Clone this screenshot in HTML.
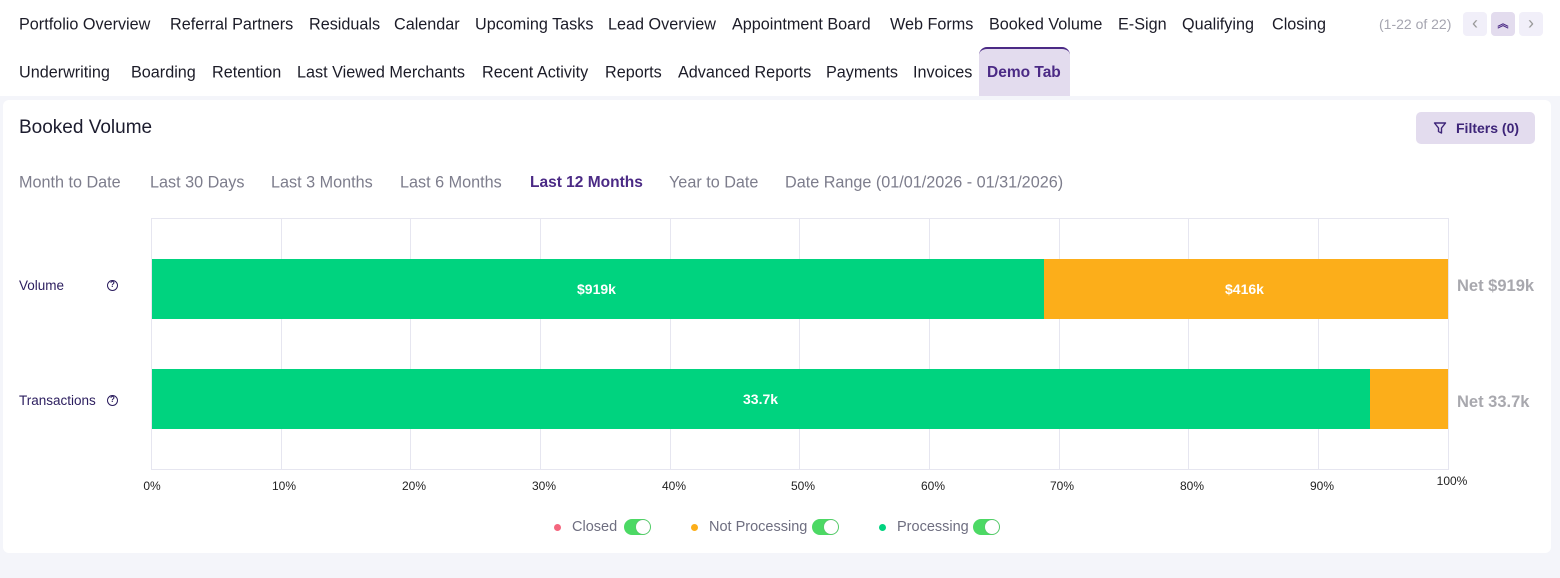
<!DOCTYPE html>
<html><head><meta charset="utf-8"><style>
*{margin:0;padding:0;box-sizing:border-box}
body{width:1560px;height:578px;background:#fff;font-family:"Liberation Sans",sans-serif;position:relative;overflow:hidden;color:#1d1d2b}
.a{position:absolute;white-space:nowrap}
.t{font-size:16.2px;color:#1c1c28;transform:translateY(-50%)}
.d{font-size:16.2px;color:#7d7d8c;top:183px;transform:translateY(-50%)}
.tick{font-size:12px;color:#222;transform:translateX(-50%)}
.g{position:absolute;top:218px;height:251px;width:1px;background:#e6e6f0}
.lg{font-size:14.5px;color:#6e6e80;top:527px;transform:translateY(-50%)}
.dot{position:absolute;width:7px;height:7px;border-radius:50%;top:524px}
.tg{position:absolute;top:519px;width:27px;height:16px;border-radius:8px;background:#4cd964}
.tg::after{content:"";position:absolute;right:1px;top:1px;width:14px;height:14px;border-radius:50%;background:#fff;box-shadow:0 0 1px #888}
.q{position:absolute;width:11px;height:11px;border:1.5px solid #2b1d5e;border-radius:50%;font-size:8px;font-weight:bold;color:#2b1d5e;text-align:center;line-height:8px}
</style></head><body>
<div class="a t" style="left:19px;top:25px">Portfolio Overview</div>
<div class="a t" style="left:170px;top:25px">Referral Partners</div>
<div class="a t" style="left:309px;top:25px">Residuals</div>
<div class="a t" style="left:394px;top:25px">Calendar</div>
<div class="a t" style="left:475px;top:25px">Upcoming Tasks</div>
<div class="a t" style="left:608px;top:25px">Lead Overview</div>
<div class="a t" style="left:732px;top:25px">Appointment Board</div>
<div class="a t" style="left:890px;top:25px">Web Forms</div>
<div class="a t" style="left:989px;top:25px">Booked Volume</div>
<div class="a t" style="left:1118px;top:25px">E-Sign</div>
<div class="a t" style="left:1182px;top:25px">Qualifying</div>
<div class="a t" style="left:1272px;top:25px">Closing</div>
<div class="a" style="left:1379px;top:16px;font-size:14px;color:#a5a5b0">(1-22 of 22)</div>
<div class="a" style="left:1463px;top:12px;width:24px;height:24px;border-radius:4px;background:#f1eff9;color:#999;text-align:center;line-height:22px;font-size:18px">‹</div>
<div class="a" style="left:1491px;top:12px;width:24px;height:24px;border-radius:4px;background:#e3dcee;color:#4b2a85;text-align:center;line-height:24px;font-size:11px;font-weight:bold">︽</div>
<div class="a" style="left:1519px;top:12px;width:24px;height:24px;border-radius:4px;background:#f1eff9;color:#999;text-align:center;line-height:22px;font-size:18px">›</div>

<div class="a t" style="left:19px;top:73px">Underwriting</div>
<div class="a t" style="left:131px;top:73px">Boarding</div>
<div class="a t" style="left:212px;top:73px">Retention</div>
<div class="a t" style="left:297px;top:73px">Last Viewed Merchants</div>
<div class="a t" style="left:482px;top:73px">Recent Activity</div>
<div class="a t" style="left:605px;top:73px">Reports</div>
<div class="a t" style="left:678px;top:73px">Advanced Reports</div>
<div class="a t" style="left:826px;top:73px">Payments</div>
<div class="a t" style="left:913px;top:73px">Invoices</div>
<div class="a" style="left:979px;top:47px;width:91px;height:49px;background:#e3dcee;border-top:2px solid #4b2a85;border-radius:8px 8px 0 0"></div>
<div class="a t" style="left:987px;top:73px;font-weight:bold;color:#4b2a85;font-size:15.5px">Demo Tab</div>

<div class="a" style="left:0;top:96px;width:1560px;height:482px;background:#f4f5fa"></div>
<div class="a" style="left:3px;top:100px;width:1548px;height:453px;background:#fff;border-radius:6px"></div>
<div class="a" style="left:19px;top:117px;font-size:19px;color:#1c1c2e">Booked Volume</div>
<div class="a" style="left:1416px;top:112px;width:119px;height:32px;border-radius:5px;background:#e3dcee;color:#3d2478;font-size:14px;font-weight:bold;line-height:32px;padding-left:40px">Filters (0)</div>
<svg class="a" style="left:1433px;top:121px" width="14" height="14" viewBox="0 0 14 14"><path d="M1.5 2h11L8.5 7v5L5.5 10.5V7z" fill="none" stroke="#3d2478" stroke-width="1.4" stroke-linejoin="round"/></svg>

<div class="a d" style="left:19px">Month to Date</div>
<div class="a d" style="left:150px">Last 30 Days</div>
<div class="a d" style="left:271px">Last 3 Months</div>
<div class="a d" style="left:400px">Last 6 Months</div>
<div class="a d" style="left:530px;color:#4b2a85;font-weight:bold;font-size:15.5px">Last 12 Months</div>
<div class="a d" style="left:669px">Year to Date</div>
<div class="a d" style="left:785px">Date Range (01/01/2026 - 01/31/2026)</div>

<div class="a" style="left:151px;top:218px;width:1298px;height:252px;border:1px solid #e6e6f0"></div>
<div class="g" style="left:281px"></div><div class="g" style="left:410px"></div><div class="g" style="left:540px"></div><div class="g" style="left:670px"></div><div class="g" style="left:799px"></div><div class="g" style="left:929px"></div><div class="g" style="left:1059px"></div><div class="g" style="left:1188px"></div><div class="g" style="left:1318px"></div>

<div class="a" style="left:152px;top:259px;width:892px;height:60px;background:#00d37f"></div>
<div class="a" style="left:1044px;top:259px;width:404px;height:60px;background:#fcae1a"></div>
<div class="a" style="left:152px;top:369px;width:1218px;height:60px;background:#00d37f"></div>
<div class="a" style="left:1370px;top:369px;width:78px;height:60px;background:#fcae1a"></div>
<div class="a" style="left:577px;top:281px;color:#fff;font-weight:bold;font-size:14px">$919k</div>
<div class="a" style="left:1225px;top:281px;color:#fff;font-weight:bold;font-size:14px">$416k</div>
<div class="a" style="left:743px;top:391px;color:#fff;font-weight:bold;font-size:14px">33.7k</div>
<div class="a" style="left:1457px;top:277px;color:#a8a8ae;font-weight:bold;font-size:16.5px">Net $919k</div>
<div class="a" style="left:1457px;top:393px;color:#a8a8ae;font-weight:bold;font-size:16.5px">Net 33.7k</div>

<div class="a" style="left:19px;top:278px;font-size:13.5px;color:#2b1d5e">Volume</div>
<div class="q" style="left:107px;top:280px">?</div>
<div class="a" style="left:19px;top:393px;font-size:13.5px;color:#2b1d5e">Transactions</div>
<div class="q" style="left:107px;top:395px">?</div>

<div class="a tick" style="left:152px;top:479px">0%</div>
<div class="a tick" style="left:284px;top:479px">10%</div>
<div class="a tick" style="left:414px;top:479px">20%</div>
<div class="a tick" style="left:544px;top:479px">30%</div>
<div class="a tick" style="left:674px;top:479px">40%</div>
<div class="a tick" style="left:803px;top:479px">50%</div>
<div class="a tick" style="left:933px;top:479px">60%</div>
<div class="a tick" style="left:1062px;top:479px">70%</div>
<div class="a tick" style="left:1192px;top:479px">80%</div>
<div class="a tick" style="left:1322px;top:479px">90%</div>
<div class="a tick" style="left:1452px;top:474px">100%</div>

<div class="dot" style="left:554px;background:#f4667e"></div>
<div class="a lg" style="left:572px">Closed</div>
<div class="tg" style="left:624px"></div>
<div class="dot" style="left:691px;background:#fcae1a"></div>
<div class="a lg" style="left:709px">Not Processing</div>
<div class="tg" style="left:812px"></div>
<div class="dot" style="left:879px;background:#00d37f"></div>
<div class="a lg" style="left:897px">Processing</div>
<div class="tg" style="left:973px"></div>
</body></html>
